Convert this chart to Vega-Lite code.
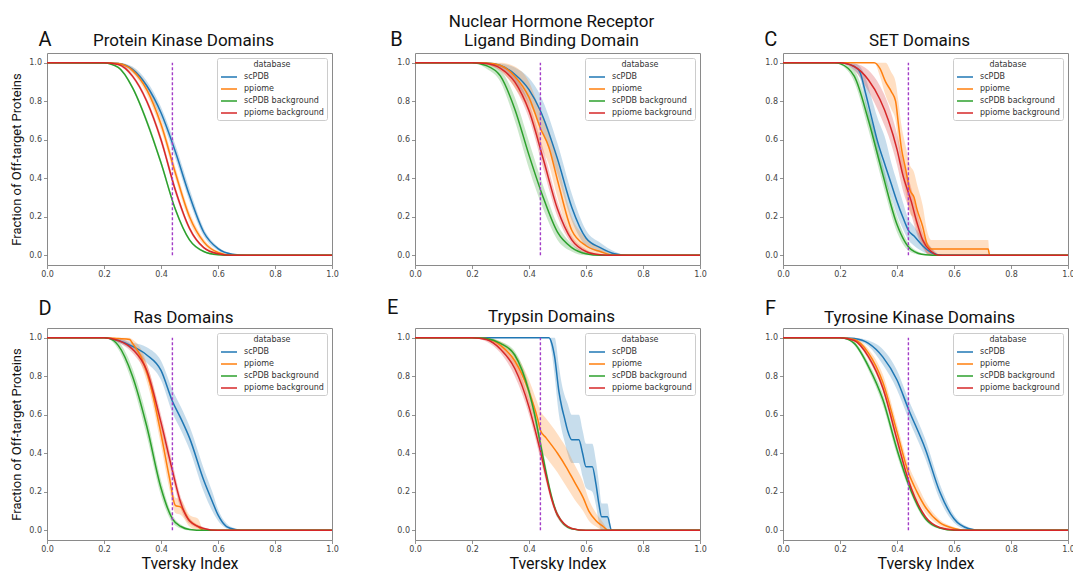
{
"$schema":"https://vega.github.io/schema/vega-lite/v6.json",
"padding":{"left":10,"top":12,"right":5,"bottom":5},
"background":"white",
"config":{
 "font":"Roboto",
 "view":{"stroke":"#8a8a8a","strokeWidth":1},
 "axis":{"grid":false,"domain":false,"tickColor":"#777","tickSize":3.5,"tickWidth":0.8,"labelFont":"DejaVu Sans","labelFontSize":8,"labelColor":"#444","labelPadding":2,"labelFlush":false,"labelOverlap":false,"titleFont":"Roboto","titleFontWeight":"normal","titleColor":"#111"},
 "legend":{"orient":"top-right","offset":5,"padding":3,"strokeColor":"#cccccc","fillColor":"white","cornerRadius":2,"titleFont":"DejaVu Sans","titleFontSize":8,"titleFontWeight":"normal","titleColor":"#333","titleAnchor":"middle","titlePadding":2,"labelFont":"DejaVu Sans","labelFontSize":8,"labelColor":"#333","symbolType":"M-1,0H2.2","symbolSize":100,"symbolStrokeWidth":1.5,"rowPadding":2,"labelOffset":12},
 "title":{"font":"Roboto","fontSize":17,"fontWeight":"normal","color":"#111","anchor":"middle","baseline":"bottom","lineHeight":19,"dx":-6}
},
"datasets":{
"A":[
{"d":"scPDB","x":0,"y":1,"lo":1,"hi":1},{"d":"scPDB","x":0.2,"y":1,"lo":1,"hi":1},{"d":"scPDB","x":0.25,"y":0.995,"lo":0.99,"hi":1},{"d":"scPDB","x":0.3,"y":0.965,"lo":0.95,"hi":0.98},{"d":"scPDB","x":0.35,"y":0.88,"lo":0.855,"hi":0.905},{"d":"scPDB","x":0.4,"y":0.74,"lo":0.71,"hi":0.77},{"d":"scPDB","x":0.45,"y":0.54,"lo":0.505,"hi":0.575},{"d":"scPDB","x":0.5,"y":0.31,"lo":0.28,"hi":0.345},{"d":"scPDB","x":0.55,"y":0.12,"lo":0.1,"hi":0.14},{"d":"scPDB","x":0.6,"y":0.035,"lo":0.025,"hi":0.045},{"d":"scPDB","x":0.65,"y":0.006,"lo":0.002,"hi":0.01},{"d":"scPDB","x":0.7,"y":0,"lo":0,"hi":0},{"d":"scPDB","x":1,"y":0,"lo":0,"hi":0},
{"d":"ppiome","x":0,"y":1,"lo":1,"hi":1},{"d":"ppiome","x":0.2,"y":1,"lo":1,"hi":1},{"d":"ppiome","x":0.25,"y":0.995,"lo":0.99,"hi":1},{"d":"ppiome","x":0.3,"y":0.96,"lo":0.945,"hi":0.975},{"d":"ppiome","x":0.35,"y":0.86,"lo":0.835,"hi":0.885},{"d":"ppiome","x":0.4,"y":0.68,"lo":0.65,"hi":0.71},{"d":"ppiome","x":0.45,"y":0.43,"lo":0.4,"hi":0.46},{"d":"ppiome","x":0.5,"y":0.2,"lo":0.175,"hi":0.225},{"d":"ppiome","x":0.55,"y":0.07,"lo":0.055,"hi":0.085},{"d":"ppiome","x":0.6,"y":0.015,"lo":0.008,"hi":0.022},{"d":"ppiome","x":0.65,"y":0,"lo":0,"hi":0.003},{"d":"ppiome","x":0.7,"y":0,"lo":0,"hi":0},{"d":"ppiome","x":1,"y":0,"lo":0,"hi":0},
{"d":"scPDB background","x":0,"y":1,"lo":1,"hi":1},{"d":"scPDB background","x":0.2,"y":0.998,"lo":0.997,"hi":1},{"d":"scPDB background","x":0.25,"y":0.975,"lo":0.97,"hi":0.98},{"d":"scPDB background","x":0.3,"y":0.87,"lo":0.86,"hi":0.88},{"d":"scPDB background","x":0.35,"y":0.695,"lo":0.68,"hi":0.71},{"d":"scPDB background","x":0.4,"y":0.48,"lo":0.465,"hi":0.495},{"d":"scPDB background","x":0.45,"y":0.24,"lo":0.228,"hi":0.252},{"d":"scPDB background","x":0.5,"y":0.08,"lo":0.073,"hi":0.087},{"d":"scPDB background","x":0.55,"y":0.02,"lo":0.016,"hi":0.024},{"d":"scPDB background","x":0.6,"y":0.003,"lo":0.001,"hi":0.005},{"d":"scPDB background","x":0.65,"y":0,"lo":0,"hi":0},{"d":"scPDB background","x":1,"y":0,"lo":0,"hi":0},
{"d":"ppiome background","x":0,"y":1,"lo":1,"hi":1},{"d":"ppiome background","x":0.2,"y":1,"lo":1,"hi":1},{"d":"ppiome background","x":0.25,"y":0.99,"lo":0.985,"hi":0.995},{"d":"ppiome background","x":0.3,"y":0.93,"lo":0.92,"hi":0.94},{"d":"ppiome background","x":0.35,"y":0.8,"lo":0.785,"hi":0.815},{"d":"ppiome background","x":0.4,"y":0.6,"lo":0.58,"hi":0.62},{"d":"ppiome background","x":0.45,"y":0.34,"lo":0.32,"hi":0.36},{"d":"ppiome background","x":0.5,"y":0.14,"lo":0.128,"hi":0.152},{"d":"ppiome background","x":0.55,"y":0.04,"lo":0.034,"hi":0.046},{"d":"ppiome background","x":0.6,"y":0.008,"lo":0.005,"hi":0.011},{"d":"ppiome background","x":0.65,"y":0,"lo":0,"hi":0},{"d":"ppiome background","x":1,"y":0,"lo":0,"hi":0}
],
"B":[
{"d":"scPDB","x":0,"y":1,"lo":1,"hi":1},{"d":"scPDB","x":0.2,"y":1,"lo":1,"hi":1},{"d":"scPDB","x":0.25,"y":0.998,"lo":0.995,"hi":1},{"d":"scPDB","x":0.3,"y":0.985,"lo":0.97,"hi":0.995},{"d":"scPDB","x":0.35,"y":0.94,"lo":0.9,"hi":0.975},{"d":"scPDB","x":0.4,"y":0.86,"lo":0.79,"hi":0.92},{"d":"scPDB","x":0.44,"y":0.75,"lo":0.67,"hi":0.83},{"d":"scPDB","x":0.5,"y":0.5,"lo":0.42,"hi":0.58},{"d":"scPDB","x":0.55,"y":0.25,"lo":0.18,"hi":0.32},{"d":"scPDB","x":0.6,"y":0.09,"lo":0.05,"hi":0.13},{"d":"scPDB","x":0.65,"y":0.04,"lo":0.015,"hi":0.065},{"d":"scPDB","x":0.7,"y":0.008,"lo":0,"hi":0.02},{"d":"scPDB","x":0.75,"y":0,"lo":0,"hi":0},{"d":"scPDB","x":1,"y":0,"lo":0,"hi":0},
{"d":"ppiome","x":0,"y":1,"lo":1,"hi":1},{"d":"ppiome","x":0.2,"y":1,"lo":1,"hi":1},{"d":"ppiome","x":0.25,"y":0.998,"lo":0.99,"hi":1},{"d":"ppiome","x":0.3,"y":0.985,"lo":0.96,"hi":1},{"d":"ppiome","x":0.35,"y":0.93,"lo":0.87,"hi":0.98},{"d":"ppiome","x":0.4,"y":0.82,"lo":0.74,"hi":0.9},{"d":"ppiome","x":0.44,"y":0.66,"lo":0.57,"hi":0.75},{"d":"ppiome","x":0.47,"y":0.56,"lo":0.47,"hi":0.65},{"d":"ppiome","x":0.5,"y":0.39,"lo":0.3,"hi":0.48},{"d":"ppiome","x":0.55,"y":0.13,"lo":0.08,"hi":0.2},{"d":"ppiome","x":0.6,"y":0.05,"lo":0.02,"hi":0.09},{"d":"ppiome","x":0.65,"y":0.02,"lo":0.005,"hi":0.04},{"d":"ppiome","x":0.7,"y":0,"lo":0,"hi":0.005},{"d":"ppiome","x":1,"y":0,"lo":0,"hi":0},
{"d":"scPDB background","x":0,"y":1,"lo":1,"hi":1},{"d":"scPDB background","x":0.2,"y":1,"lo":1,"hi":1},{"d":"scPDB background","x":0.25,"y":0.985,"lo":0.97,"hi":0.995},{"d":"scPDB background","x":0.3,"y":0.93,"lo":0.9,"hi":0.96},{"d":"scPDB background","x":0.35,"y":0.76,"lo":0.7,"hi":0.82},{"d":"scPDB background","x":0.4,"y":0.52,"lo":0.45,"hi":0.59},{"d":"scPDB background","x":0.45,"y":0.3,"lo":0.24,"hi":0.36},{"d":"scPDB background","x":0.5,"y":0.12,"lo":0.08,"hi":0.16},{"d":"scPDB background","x":0.55,"y":0.04,"lo":0.02,"hi":0.06},{"d":"scPDB background","x":0.6,"y":0.008,"lo":0,"hi":0.015},{"d":"scPDB background","x":0.65,"y":0,"lo":0,"hi":0},{"d":"scPDB background","x":1,"y":0,"lo":0,"hi":0},
{"d":"ppiome background","x":0,"y":1,"lo":1,"hi":1},{"d":"ppiome background","x":0.2,"y":1,"lo":1,"hi":1},{"d":"ppiome background","x":0.25,"y":0.995,"lo":0.99,"hi":1},{"d":"ppiome background","x":0.3,"y":0.97,"lo":0.955,"hi":0.985},{"d":"ppiome background","x":0.35,"y":0.9,"lo":0.87,"hi":0.93},{"d":"ppiome background","x":0.4,"y":0.75,"lo":0.71,"hi":0.79},{"d":"ppiome background","x":0.45,"y":0.5,"lo":0.45,"hi":0.55},{"d":"ppiome background","x":0.5,"y":0.24,"lo":0.2,"hi":0.28},{"d":"ppiome background","x":0.55,"y":0.08,"lo":0.06,"hi":0.1},{"d":"ppiome background","x":0.6,"y":0.02,"lo":0.01,"hi":0.03},{"d":"ppiome background","x":0.65,"y":0.003,"lo":0,"hi":0.006},{"d":"ppiome background","x":0.7,"y":0,"lo":0,"hi":0},{"d":"ppiome background","x":1,"y":0,"lo":0,"hi":0}
],
"C":[
{"d":"scPDB","x":0,"y":1,"lo":1,"hi":1},{"d":"scPDB","x":0.2,"y":1,"lo":1,"hi":1},{"d":"scPDB","x":0.25,"y":0.98,"lo":0.96,"hi":0.995},{"d":"scPDB","x":0.27,"y":0.95,"lo":0.92,"hi":0.98},{"d":"scPDB","x":0.29,"y":0.84,"lo":0.78,"hi":0.92},{"d":"scPDB","x":0.31,"y":0.72,"lo":0.64,"hi":0.82},{"d":"scPDB","x":0.33,"y":0.6,"lo":0.52,"hi":0.72},{"d":"scPDB","x":0.36,"y":0.46,"lo":0.38,"hi":0.6},{"d":"scPDB","x":0.38,"y":0.37,"lo":0.3,"hi":0.48},{"d":"scPDB","x":0.4,"y":0.28,"lo":0.21,"hi":0.38},{"d":"scPDB","x":0.42,"y":0.2,"lo":0.14,"hi":0.28},{"d":"scPDB","x":0.44,"y":0.13,"lo":0.08,"hi":0.19},{"d":"scPDB","x":0.46,"y":0.1,"lo":0.05,"hi":0.15},{"d":"scPDB","x":0.49,"y":0.05,"lo":0.02,"hi":0.09},{"d":"scPDB","x":0.52,"y":0.015,"lo":0,"hi":0.04},{"d":"scPDB","x":0.56,"y":0,"lo":0,"hi":0},{"d":"scPDB","x":1,"y":0,"lo":0,"hi":0},
{"d":"ppiome","x":0,"y":1,"lo":1,"hi":1},{"d":"ppiome","x":0.32,"y":1,"lo":1,"hi":1},{"d":"ppiome","x":0.34,"y":0.97,"lo":0.93,"hi":1},{"d":"ppiome","x":0.36,"y":0.9,"lo":0.83,"hi":1},{"d":"ppiome","x":0.38,"y":0.85,"lo":0.76,"hi":0.95},{"d":"ppiome","x":0.395,"y":0.8,"lo":0.7,"hi":0.9},{"d":"ppiome","x":0.405,"y":0.68,"lo":0.57,"hi":0.8},{"d":"ppiome","x":0.415,"y":0.56,"lo":0.45,"hi":0.68},{"d":"ppiome","x":0.43,"y":0.45,"lo":0.33,"hi":0.57},{"d":"ppiome","x":0.445,"y":0.34,"lo":0.22,"hi":0.47},{"d":"ppiome","x":0.46,"y":0.3,"lo":0.19,"hi":0.43},{"d":"ppiome","x":0.47,"y":0.24,"lo":0.13,"hi":0.37},{"d":"ppiome","x":0.49,"y":0.15,"lo":0.06,"hi":0.26},{"d":"ppiome","x":0.505,"y":0.06,"lo":0.01,"hi":0.13},{"d":"ppiome","x":0.52,"y":0.033,"lo":0,"hi":0.08},{"d":"ppiome","x":0.72,"y":0.033,"lo":0,"hi":0.08},{"d":"ppiome","x":0.725,"y":0,"lo":0,"hi":0},{"d":"ppiome","x":1,"y":0,"lo":0,"hi":0},
{"d":"scPDB background","x":0,"y":1,"lo":1,"hi":1},{"d":"scPDB background","x":0.18,"y":1,"lo":1,"hi":1},{"d":"scPDB background","x":0.2,"y":0.995,"lo":0.99,"hi":1},{"d":"scPDB background","x":0.25,"y":0.93,"lo":0.9,"hi":0.96},{"d":"scPDB background","x":0.3,"y":0.7,"lo":0.65,"hi":0.75},{"d":"scPDB background","x":0.35,"y":0.42,"lo":0.37,"hi":0.47},{"d":"scPDB background","x":0.4,"y":0.16,"lo":0.12,"hi":0.2},{"d":"scPDB background","x":0.45,"y":0.03,"lo":0.015,"hi":0.045},{"d":"scPDB background","x":0.5,"y":0.003,"lo":0,"hi":0.008},{"d":"scPDB background","x":0.55,"y":0,"lo":0,"hi":0},{"d":"scPDB background","x":1,"y":0,"lo":0,"hi":0},
{"d":"ppiome background","x":0,"y":1,"lo":1,"hi":1},{"d":"ppiome background","x":0.2,"y":1,"lo":1,"hi":1},{"d":"ppiome background","x":0.25,"y":0.98,"lo":0.96,"hi":0.995},{"d":"ppiome background","x":0.3,"y":0.91,"lo":0.85,"hi":0.96},{"d":"ppiome background","x":0.34,"y":0.81,"lo":0.73,"hi":0.88},{"d":"ppiome background","x":0.37,"y":0.7,"lo":0.62,"hi":0.78},{"d":"ppiome background","x":0.4,"y":0.55,"lo":0.47,"hi":0.63},{"d":"ppiome background","x":0.42,"y":0.42,"lo":0.34,"hi":0.5},{"d":"ppiome background","x":0.45,"y":0.28,"lo":0.21,"hi":0.35},{"d":"ppiome background","x":0.47,"y":0.17,"lo":0.11,"hi":0.23},{"d":"ppiome background","x":0.49,"y":0.08,"lo":0.04,"hi":0.12},{"d":"ppiome background","x":0.52,"y":0.02,"lo":0,"hi":0.04},{"d":"ppiome background","x":0.55,"y":0,"lo":0,"hi":0},{"d":"ppiome background","x":1,"y":0,"lo":0,"hi":0}
],
"D":[
{"d":"scPDB","x":0,"y":1,"lo":1,"hi":1},{"d":"scPDB","x":0.2,"y":1,"lo":1,"hi":1},{"d":"scPDB","x":0.25,"y":0.985,"lo":0.975,"hi":0.995},{"d":"scPDB","x":0.3,"y":0.955,"lo":0.935,"hi":0.975},{"d":"scPDB","x":0.35,"y":0.91,"lo":0.87,"hi":0.95},{"d":"scPDB","x":0.4,"y":0.83,"lo":0.78,"hi":0.88},{"d":"scPDB","x":0.44,"y":0.67,"lo":0.61,"hi":0.73},{"d":"scPDB","x":0.47,"y":0.58,"lo":0.52,"hi":0.64},{"d":"scPDB","x":0.5,"y":0.48,"lo":0.42,"hi":0.54},{"d":"scPDB","x":0.55,"y":0.26,"lo":0.2,"hi":0.32},{"d":"scPDB","x":0.58,"y":0.15,"lo":0.1,"hi":0.2},{"d":"scPDB","x":0.6,"y":0.08,"lo":0.05,"hi":0.11},{"d":"scPDB","x":0.63,"y":0.02,"lo":0.01,"hi":0.035},{"d":"scPDB","x":0.66,"y":0.005,"lo":0,"hi":0.01},{"d":"scPDB","x":0.7,"y":0,"lo":0,"hi":0},{"d":"scPDB","x":1,"y":0,"lo":0,"hi":0},
{"d":"ppiome","x":0,"y":1,"lo":1,"hi":1},{"d":"ppiome","x":0.2,"y":1,"lo":1,"hi":1},{"d":"ppiome","x":0.25,"y":0.995,"lo":0.99,"hi":1},{"d":"ppiome","x":0.29,"y":0.99,"lo":0.98,"hi":1},{"d":"ppiome","x":0.3,"y":0.97,"lo":0.95,"hi":0.99},{"d":"ppiome","x":0.33,"y":0.9,"lo":0.86,"hi":0.94},{"d":"ppiome","x":0.36,"y":0.77,"lo":0.72,"hi":0.82},{"d":"ppiome","x":0.4,"y":0.5,"lo":0.44,"hi":0.56},{"d":"ppiome","x":0.43,"y":0.27,"lo":0.21,"hi":0.33},{"d":"ppiome","x":0.45,"y":0.13,"lo":0.09,"hi":0.17},{"d":"ppiome","x":0.47,"y":0.12,"lo":0.08,"hi":0.16},{"d":"ppiome","x":0.5,"y":0.05,"lo":0.02,"hi":0.08},{"d":"ppiome","x":0.53,"y":0.02,"lo":0,"hi":0.06},{"d":"ppiome","x":0.55,"y":0,"lo":0,"hi":0},{"d":"ppiome","x":1,"y":0,"lo":0,"hi":0},
{"d":"scPDB background","x":0,"y":1,"lo":1,"hi":1},{"d":"scPDB background","x":0.2,"y":1,"lo":1,"hi":1},{"d":"scPDB background","x":0.22,"y":0.995,"lo":0.99,"hi":1},{"d":"scPDB background","x":0.25,"y":0.96,"lo":0.94,"hi":0.98},{"d":"scPDB background","x":0.3,"y":0.8,"lo":0.76,"hi":0.84},{"d":"scPDB background","x":0.35,"y":0.54,"lo":0.49,"hi":0.59},{"d":"scPDB background","x":0.4,"y":0.22,"lo":0.18,"hi":0.26},{"d":"scPDB background","x":0.44,"y":0.06,"lo":0.04,"hi":0.08},{"d":"scPDB background","x":0.47,"y":0.02,"lo":0.01,"hi":0.03},{"d":"scPDB background","x":0.5,"y":0.005,"lo":0,"hi":0.01},{"d":"scPDB background","x":0.55,"y":0,"lo":0,"hi":0},{"d":"scPDB background","x":1,"y":0,"lo":0,"hi":0},
{"d":"ppiome background","x":0,"y":1,"lo":1,"hi":1},{"d":"ppiome background","x":0.2,"y":1,"lo":1,"hi":1},{"d":"ppiome background","x":0.25,"y":0.985,"lo":0.975,"hi":0.995},{"d":"ppiome background","x":0.3,"y":0.94,"lo":0.92,"hi":0.96},{"d":"ppiome background","x":0.35,"y":0.83,"lo":0.8,"hi":0.86},{"d":"ppiome background","x":0.4,"y":0.56,"lo":0.52,"hi":0.6},{"d":"ppiome background","x":0.44,"y":0.31,"lo":0.27,"hi":0.35},{"d":"ppiome background","x":0.47,"y":0.14,"lo":0.11,"hi":0.17},{"d":"ppiome background","x":0.5,"y":0.05,"lo":0.035,"hi":0.065},{"d":"ppiome background","x":0.55,"y":0.01,"lo":0.004,"hi":0.016},{"d":"ppiome background","x":0.6,"y":0,"lo":0,"hi":0},{"d":"ppiome background","x":1,"y":0,"lo":0,"hi":0}
],
"E":[
{"d":"scPDB","x":0,"y":1,"lo":1,"hi":1},{"d":"scPDB","x":0.47,"y":1,"lo":1,"hi":1},{"d":"scPDB","x":0.48,"y":0.97,"lo":0.92,"hi":1},{"d":"scPDB","x":0.49,"y":0.9,"lo":0.8,"hi":1},{"d":"scPDB","x":0.505,"y":0.72,"lo":0.6,"hi":0.85},{"d":"scPDB","x":0.515,"y":0.64,"lo":0.52,"hi":0.76},{"d":"scPDB","x":0.525,"y":0.58,"lo":0.46,"hi":0.7},{"d":"scPDB","x":0.535,"y":0.52,"lo":0.4,"hi":0.66},{"d":"scPDB","x":0.55,"y":0.47,"lo":0.35,"hi":0.6},{"d":"scPDB","x":0.575,"y":0.47,"lo":0.35,"hi":0.6},{"d":"scPDB","x":0.588,"y":0.4,"lo":0.28,"hi":0.52},{"d":"scPDB","x":0.6,"y":0.33,"lo":0.22,"hi":0.45},{"d":"scPDB","x":0.622,"y":0.33,"lo":0.2,"hi":0.45},{"d":"scPDB","x":0.635,"y":0.24,"lo":0.13,"hi":0.36},{"d":"scPDB","x":0.645,"y":0.14,"lo":0.04,"hi":0.25},{"d":"scPDB","x":0.655,"y":0.07,"lo":0,"hi":0.14},{"d":"scPDB","x":0.675,"y":0.07,"lo":0,"hi":0.14},{"d":"scPDB","x":0.69,"y":0,"lo":0,"hi":0},{"d":"scPDB","x":1,"y":0,"lo":0,"hi":0},
{"d":"ppiome","x":0,"y":1,"lo":1,"hi":1},{"d":"ppiome","x":0.2,"y":1,"lo":1,"hi":1},{"d":"ppiome","x":0.25,"y":0.995,"lo":0.99,"hi":1},{"d":"ppiome","x":0.3,"y":0.96,"lo":0.94,"hi":0.98},{"d":"ppiome","x":0.35,"y":0.88,"lo":0.84,"hi":0.92},{"d":"ppiome","x":0.4,"y":0.72,"lo":0.66,"hi":0.78},{"d":"ppiome","x":0.43,"y":0.58,"lo":0.5,"hi":0.66},{"d":"ppiome","x":0.44,"y":0.52,"lo":0.42,"hi":0.62},{"d":"ppiome","x":0.46,"y":0.48,"lo":0.38,"hi":0.58},{"d":"ppiome","x":0.5,"y":0.4,"lo":0.3,"hi":0.5},{"d":"ppiome","x":0.53,"y":0.33,"lo":0.23,"hi":0.43},{"d":"ppiome","x":0.56,"y":0.25,"lo":0.16,"hi":0.34},{"d":"ppiome","x":0.59,"y":0.17,"lo":0.1,"hi":0.25},{"d":"ppiome","x":0.61,"y":0.1,"lo":0.05,"hi":0.16},{"d":"ppiome","x":0.635,"y":0.05,"lo":0.02,"hi":0.09},{"d":"ppiome","x":0.66,"y":0.02,"lo":0,"hi":0.04},{"d":"ppiome","x":0.68,"y":0,"lo":0,"hi":0},{"d":"ppiome","x":1,"y":0,"lo":0,"hi":0},
{"d":"scPDB background","x":0,"y":1,"lo":1,"hi":1},{"d":"scPDB background","x":0.2,"y":1,"lo":1,"hi":1},{"d":"scPDB background","x":0.25,"y":0.995,"lo":0.99,"hi":1},{"d":"scPDB background","x":0.3,"y":0.97,"lo":0.96,"hi":0.98},{"d":"scPDB background","x":0.35,"y":0.91,"lo":0.89,"hi":0.93},{"d":"scPDB background","x":0.4,"y":0.72,"lo":0.69,"hi":0.75},{"d":"scPDB background","x":0.42,"y":0.6,"lo":0.57,"hi":0.63},{"d":"scPDB background","x":0.44,"y":0.45,"lo":0.42,"hi":0.48},{"d":"scPDB background","x":0.46,"y":0.3,"lo":0.27,"hi":0.33},{"d":"scPDB background","x":0.48,"y":0.17,"lo":0.15,"hi":0.19},{"d":"scPDB background","x":0.5,"y":0.08,"lo":0.065,"hi":0.095},{"d":"scPDB background","x":0.55,"y":0.008,"lo":0.003,"hi":0.013},{"d":"scPDB background","x":0.6,"y":0,"lo":0,"hi":0},{"d":"scPDB background","x":1,"y":0,"lo":0,"hi":0},
{"d":"ppiome background","x":0,"y":1,"lo":1,"hi":1},{"d":"ppiome background","x":0.2,"y":1,"lo":1,"hi":1},{"d":"ppiome background","x":0.25,"y":0.99,"lo":0.98,"hi":1},{"d":"ppiome background","x":0.3,"y":0.94,"lo":0.92,"hi":0.96},{"d":"ppiome background","x":0.35,"y":0.84,"lo":0.8,"hi":0.88},{"d":"ppiome background","x":0.4,"y":0.64,"lo":0.6,"hi":0.68},{"d":"ppiome background","x":0.42,"y":0.53,"lo":0.49,"hi":0.57},{"d":"ppiome background","x":0.44,"y":0.41,"lo":0.37,"hi":0.45},{"d":"ppiome background","x":0.46,"y":0.28,"lo":0.25,"hi":0.31},{"d":"ppiome background","x":0.48,"y":0.16,"lo":0.14,"hi":0.18},{"d":"ppiome background","x":0.5,"y":0.08,"lo":0.065,"hi":0.095},{"d":"ppiome background","x":0.55,"y":0.01,"lo":0.005,"hi":0.015},{"d":"ppiome background","x":0.6,"y":0,"lo":0,"hi":0},{"d":"ppiome background","x":1,"y":0,"lo":0,"hi":0}
],
"F":[
{"d":"scPDB","x":0,"y":1,"lo":1,"hi":1},{"d":"scPDB","x":0.2,"y":1,"lo":1,"hi":1},{"d":"scPDB","x":0.25,"y":0.995,"lo":0.99,"hi":1},{"d":"scPDB","x":0.3,"y":0.97,"lo":0.955,"hi":0.985},{"d":"scPDB","x":0.35,"y":0.9,"lo":0.86,"hi":0.94},{"d":"scPDB","x":0.4,"y":0.78,"lo":0.73,"hi":0.83},{"d":"scPDB","x":0.44,"y":0.63,"lo":0.58,"hi":0.68},{"d":"scPDB","x":0.5,"y":0.42,"lo":0.37,"hi":0.47},{"d":"scPDB","x":0.55,"y":0.2,"lo":0.16,"hi":0.24},{"d":"scPDB","x":0.6,"y":0.06,"lo":0.04,"hi":0.08},{"d":"scPDB","x":0.65,"y":0.01,"lo":0.003,"hi":0.017},{"d":"scPDB","x":0.7,"y":0,"lo":0,"hi":0},{"d":"scPDB","x":1,"y":0,"lo":0,"hi":0},
{"d":"ppiome","x":0,"y":1,"lo":1,"hi":1},{"d":"ppiome","x":0.2,"y":1,"lo":1,"hi":1},{"d":"ppiome","x":0.25,"y":0.99,"lo":0.98,"hi":1},{"d":"ppiome","x":0.3,"y":0.92,"lo":0.9,"hi":0.94},{"d":"ppiome","x":0.35,"y":0.77,"lo":0.73,"hi":0.81},{"d":"ppiome","x":0.4,"y":0.51,"lo":0.47,"hi":0.55},{"d":"ppiome","x":0.44,"y":0.3,"lo":0.26,"hi":0.34},{"d":"ppiome","x":0.47,"y":0.2,"lo":0.16,"hi":0.24},{"d":"ppiome","x":0.5,"y":0.12,"lo":0.09,"hi":0.15},{"d":"ppiome","x":0.55,"y":0.04,"lo":0.025,"hi":0.055},{"d":"ppiome","x":0.6,"y":0.01,"lo":0.003,"hi":0.017},{"d":"ppiome","x":0.65,"y":0,"lo":0,"hi":0},{"d":"ppiome","x":1,"y":0,"lo":0,"hi":0},
{"d":"scPDB background","x":0,"y":1,"lo":1,"hi":1},{"d":"scPDB background","x":0.2,"y":1,"lo":1,"hi":1},{"d":"scPDB background","x":0.23,"y":0.99,"lo":0.985,"hi":0.995},{"d":"scPDB background","x":0.25,"y":0.97,"lo":0.96,"hi":0.98},{"d":"scPDB background","x":0.3,"y":0.85,"lo":0.83,"hi":0.87},{"d":"scPDB background","x":0.35,"y":0.68,"lo":0.65,"hi":0.71},{"d":"scPDB background","x":0.4,"y":0.42,"lo":0.39,"hi":0.45},{"d":"scPDB background","x":0.44,"y":0.24,"lo":0.22,"hi":0.26},{"d":"scPDB background","x":0.5,"y":0.06,"lo":0.05,"hi":0.07},{"d":"scPDB background","x":0.55,"y":0.012,"lo":0.008,"hi":0.016},{"d":"scPDB background","x":0.6,"y":0,"lo":0,"hi":0},{"d":"scPDB background","x":1,"y":0,"lo":0,"hi":0},
{"d":"ppiome background","x":0,"y":1,"lo":1,"hi":1},{"d":"ppiome background","x":0.2,"y":1,"lo":1,"hi":1},{"d":"ppiome background","x":0.25,"y":0.985,"lo":0.98,"hi":0.99},{"d":"ppiome background","x":0.3,"y":0.9,"lo":0.885,"hi":0.915},{"d":"ppiome background","x":0.35,"y":0.74,"lo":0.72,"hi":0.76},{"d":"ppiome background","x":0.4,"y":0.47,"lo":0.45,"hi":0.49},{"d":"ppiome background","x":0.44,"y":0.26,"lo":0.245,"hi":0.275},{"d":"ppiome background","x":0.5,"y":0.07,"lo":0.06,"hi":0.08},{"d":"ppiome background","x":0.55,"y":0.015,"lo":0.01,"hi":0.02},{"d":"ppiome background","x":0.6,"y":0.002,"lo":0,"hi":0.004},{"d":"ppiome background","x":0.65,"y":0,"lo":0,"hi":0},{"d":"ppiome background","x":1,"y":0,"lo":0,"hi":0}
]
},
"columns":3,
"spacing":{"row":63,"column":83},
"bounds":"flush",
"resolve":{"scale":{"color":"independent","fill":"independent"},"legend":{"color":"independent","fill":"independent"}},
"concat":[
{"width":285,"height":212,"title":{"text":"Protein Kinase Domains","offset":-20},
 "layer":[
  {"data":{"name":"A"},"mark":{"type":"area","interpolate":"monotone","opacity":0.25},
   "encoding":{"x":{"field":"x","type":"quantitative","scale":{"domain":[0,1],"nice":false,"zero":false},"axis":{"values":[0,0.2,0.4,0.6,0.8,1],"format":".1f","title":null}},
    "y":{"field":"lo","type":"quantitative","scale":{"domain":[-0.05,1.05],"nice":false,"zero":false},"axis":{"values":[0,0.2,0.4,0.6,0.8,1],"format":".1f","title":"Fraction of Off-target Proteins","titleFontSize":13,"titlePadding":5}},
    "y2":{"field":"hi"},
    "fill":{"field":"d","type":"nominal","scale":{"domain":["scPDB","ppiome","scPDB background","ppiome background","none"],"range":["#1f77b4","#ff7f0e","#2ca02c","#d62728","#000000"]},"legend":null}}},
  {"data":{"name":"A"},"mark":{"type":"line","interpolate":"monotone","strokeWidth":1.5},
   "encoding":{"x":{"field":"x","type":"quantitative","scale":{"domain":[0,1],"nice":false,"zero":false},"axis":{"values":[0,0.2,0.4,0.6,0.8,1],"format":".1f","title":null}},
    "y":{"field":"y","type":"quantitative","scale":{"domain":[-0.05,1.05],"nice":false,"zero":false},"axis":{"values":[0,0.2,0.4,0.6,0.8,1],"format":".1f","title":"Fraction of Off-target Proteins","titleFontSize":13,"titlePadding":5}},
    "color":{"field":"d","type":"nominal","scale":{"domain":["scPDB","ppiome","scPDB background","ppiome background"],"range":["#1f77b4","#ff7f0e","#2ca02c","#d62728"]},"title":"database"}}},
  {"data":{"values":[{}]},"mark":{"type":"rule","color":"#a33cc8","strokeDash":[3,2],"strokeWidth":1.4},
   "encoding":{"x":{"datum":0.44,"type":"quantitative"},"y":{"datum":0,"type":"quantitative"},"y2":{"datum":1}}},
  {"data":{"values":[{}]},"mark":{"type":"text","fontSize":20,"align":"left","baseline":"alphabetic","font":"Roboto","color":"#111"},
   "encoding":{"x":{"datum":-0.03,"type":"quantitative"},"y":{"datum":1.085,"type":"quantitative"},"text":{"value":"A"}}}
 ]},
{"width":285,"height":212,"title":{"text":["Nuclear Hormone Receptor","Ligand Binding Domain"],"offset":-20},
 "layer":[
  {"data":{"name":"B"},"mark":{"type":"area","interpolate":"monotone","opacity":0.25},
   "encoding":{"x":{"field":"x","type":"quantitative","scale":{"domain":[0,1],"nice":false,"zero":false},"axis":{"values":[0,0.2,0.4,0.6,0.8,1],"format":".1f","title":null}},
    "y":{"field":"lo","type":"quantitative","scale":{"domain":[-0.05,1.05],"nice":false,"zero":false},"axis":{"values":[0,0.2,0.4,0.6,0.8,1],"format":".1f","title":null}},
    "y2":{"field":"hi"},
    "fill":{"field":"d","type":"nominal","scale":{"domain":["scPDB","ppiome","scPDB background","ppiome background","none"],"range":["#1f77b4","#ff7f0e","#2ca02c","#d62728","#000000"]},"legend":null}}},
  {"data":{"name":"B"},"mark":{"type":"line","interpolate":"monotone","strokeWidth":1.5},
   "encoding":{"x":{"field":"x","type":"quantitative","scale":{"domain":[0,1],"nice":false,"zero":false},"axis":{"values":[0,0.2,0.4,0.6,0.8,1],"format":".1f","title":null}},
    "y":{"field":"y","type":"quantitative","scale":{"domain":[-0.05,1.05],"nice":false,"zero":false},"axis":{"values":[0,0.2,0.4,0.6,0.8,1],"format":".1f","title":null}},
    "color":{"field":"d","type":"nominal","scale":{"domain":["scPDB","ppiome","scPDB background","ppiome background"],"range":["#1f77b4","#ff7f0e","#2ca02c","#d62728"]},"title":"database"}}},
  {"data":{"values":[{}]},"mark":{"type":"rule","color":"#a33cc8","strokeDash":[3,2],"strokeWidth":1.4},
   "encoding":{"x":{"datum":0.44,"type":"quantitative"},"y":{"datum":0,"type":"quantitative"},"y2":{"datum":1}}},
  {"data":{"values":[{}]},"mark":{"type":"text","fontSize":20,"align":"left","baseline":"alphabetic","font":"Roboto","color":"#111"},
   "encoding":{"x":{"datum":-0.087,"type":"quantitative"},"y":{"datum":1.085,"type":"quantitative"},"text":{"value":"B"}}}
 ]},
{"width":285,"height":212,"title":{"text":"SET Domains","offset":-20},
 "layer":[
  {"data":{"name":"C"},"mark":{"type":"area","interpolate":"monotone","opacity":0.25},
   "encoding":{"x":{"field":"x","type":"quantitative","scale":{"domain":[0,1],"nice":false,"zero":false},"axis":{"values":[0,0.2,0.4,0.6,0.8,1],"format":".1f","title":null}},
    "y":{"field":"lo","type":"quantitative","scale":{"domain":[-0.05,1.05],"nice":false,"zero":false},"axis":{"values":[0,0.2,0.4,0.6,0.8,1],"format":".1f","title":null}},
    "y2":{"field":"hi"},
    "fill":{"field":"d","type":"nominal","scale":{"domain":["scPDB","ppiome","scPDB background","ppiome background","none"],"range":["#1f77b4","#ff7f0e","#2ca02c","#d62728","#000000"]},"legend":null}}},
  {"data":{"name":"C"},"mark":{"type":"line","interpolate":"monotone","strokeWidth":1.5},
   "encoding":{"x":{"field":"x","type":"quantitative","scale":{"domain":[0,1],"nice":false,"zero":false},"axis":{"values":[0,0.2,0.4,0.6,0.8,1],"format":".1f","title":null}},
    "y":{"field":"y","type":"quantitative","scale":{"domain":[-0.05,1.05],"nice":false,"zero":false},"axis":{"values":[0,0.2,0.4,0.6,0.8,1],"format":".1f","title":null}},
    "color":{"field":"d","type":"nominal","scale":{"domain":["scPDB","ppiome","scPDB background","ppiome background"],"range":["#1f77b4","#ff7f0e","#2ca02c","#d62728"]},"title":"database"}}},
  {"data":{"values":[{}]},"mark":{"type":"rule","color":"#a33cc8","strokeDash":[3,2],"strokeWidth":1.4},
   "encoding":{"x":{"datum":0.44,"type":"quantitative"},"y":{"datum":0,"type":"quantitative"},"y2":{"datum":1}}},
  {"data":{"values":[{}]},"mark":{"type":"text","fontSize":20,"align":"left","baseline":"alphabetic","font":"Roboto","color":"#111"},
   "encoding":{"x":{"datum":-0.066,"type":"quantitative"},"y":{"datum":1.085,"type":"quantitative"},"text":{"value":"C"}}}
 ]},
{"width":285,"height":212,"title":{"text":"Ras Domains","offset":-28},
 "layer":[
  {"data":{"name":"D"},"mark":{"type":"area","interpolate":"monotone","opacity":0.25},
   "encoding":{"x":{"field":"x","type":"quantitative","scale":{"domain":[0,1],"nice":false,"zero":false},"axis":{"values":[0,0.2,0.4,0.6,0.8,1],"format":".1f","title":"Tversky Index","titleFontSize":16,"titlePadding":2}},
    "y":{"field":"lo","type":"quantitative","scale":{"domain":[-0.05,1.05],"nice":false,"zero":false},"axis":{"values":[0,0.2,0.4,0.6,0.8,1],"format":".1f","title":"Fraction of Off-target Proteins","titleFontSize":13,"titlePadding":5}},
    "y2":{"field":"hi"},
    "fill":{"field":"d","type":"nominal","scale":{"domain":["scPDB","ppiome","scPDB background","ppiome background","none"],"range":["#1f77b4","#ff7f0e","#2ca02c","#d62728","#000000"]},"legend":null}}},
  {"data":{"name":"D"},"mark":{"type":"line","interpolate":"monotone","strokeWidth":1.5},
   "encoding":{"x":{"field":"x","type":"quantitative","scale":{"domain":[0,1],"nice":false,"zero":false},"axis":{"values":[0,0.2,0.4,0.6,0.8,1],"format":".1f","title":"Tversky Index","titleFontSize":16,"titlePadding":2}},
    "y":{"field":"y","type":"quantitative","scale":{"domain":[-0.05,1.05],"nice":false,"zero":false},"axis":{"values":[0,0.2,0.4,0.6,0.8,1],"format":".1f","title":"Fraction of Off-target Proteins","titleFontSize":13,"titlePadding":5}},
    "color":{"field":"d","type":"nominal","scale":{"domain":["scPDB","ppiome","scPDB background","ppiome background"],"range":["#1f77b4","#ff7f0e","#2ca02c","#d62728"]},"title":"database"}}},
  {"data":{"values":[{}]},"mark":{"type":"rule","color":"#a33cc8","strokeDash":[3,2],"strokeWidth":1.4},
   "encoding":{"x":{"datum":0.44,"type":"quantitative"},"y":{"datum":0,"type":"quantitative"},"y2":{"datum":1}}},
  {"data":{"values":[{}]},"mark":{"type":"text","fontSize":20,"align":"left","baseline":"alphabetic","font":"Roboto","color":"#111"},
   "encoding":{"x":{"datum":-0.03,"type":"quantitative"},"y":{"datum":1.12,"type":"quantitative"},"text":{"value":"D"}}}
 ]},
{"width":285,"height":212,"title":{"text":"Trypsin Domains","offset":-28},
 "layer":[
  {"data":{"name":"E"},"mark":{"type":"area","interpolate":"monotone","opacity":0.25},
   "encoding":{"x":{"field":"x","type":"quantitative","scale":{"domain":[0,1],"nice":false,"zero":false},"axis":{"values":[0,0.2,0.4,0.6,0.8,1],"format":".1f","title":"Tversky Index","titleFontSize":16,"titlePadding":2}},
    "y":{"field":"lo","type":"quantitative","scale":{"domain":[-0.05,1.05],"nice":false,"zero":false},"axis":{"values":[0,0.2,0.4,0.6,0.8,1],"format":".1f","title":null}},
    "y2":{"field":"hi"},
    "fill":{"field":"d","type":"nominal","scale":{"domain":["scPDB","ppiome","scPDB background","ppiome background","none"],"range":["#1f77b4","#ff7f0e","#2ca02c","#d62728","#000000"]},"legend":null}}},
  {"data":{"name":"E"},"mark":{"type":"line","interpolate":"monotone","strokeWidth":1.5},
   "encoding":{"x":{"field":"x","type":"quantitative","scale":{"domain":[0,1],"nice":false,"zero":false},"axis":{"values":[0,0.2,0.4,0.6,0.8,1],"format":".1f","title":"Tversky Index","titleFontSize":16,"titlePadding":2}},
    "y":{"field":"y","type":"quantitative","scale":{"domain":[-0.05,1.05],"nice":false,"zero":false},"axis":{"values":[0,0.2,0.4,0.6,0.8,1],"format":".1f","title":null}},
    "color":{"field":"d","type":"nominal","scale":{"domain":["scPDB","ppiome","scPDB background","ppiome background"],"range":["#1f77b4","#ff7f0e","#2ca02c","#d62728"]},"title":"database"}}},
  {"data":{"values":[{}]},"mark":{"type":"rule","color":"#a33cc8","strokeDash":[3,2],"strokeWidth":1.4},
   "encoding":{"x":{"datum":0.44,"type":"quantitative"},"y":{"datum":0,"type":"quantitative"},"y2":{"datum":1}}},
  {"data":{"values":[{}]},"mark":{"type":"text","fontSize":20,"align":"left","baseline":"alphabetic","font":"Roboto","color":"#111"},
   "encoding":{"x":{"datum":-0.098,"type":"quantitative"},"y":{"datum":1.125,"type":"quantitative"},"text":{"value":"E"}}}
 ]},
{"width":285,"height":212,"title":{"text":"Tyrosine Kinase Domains","offset":-28},
 "layer":[
  {"data":{"name":"F"},"mark":{"type":"area","interpolate":"monotone","opacity":0.25},
   "encoding":{"x":{"field":"x","type":"quantitative","scale":{"domain":[0,1],"nice":false,"zero":false},"axis":{"values":[0,0.2,0.4,0.6,0.8,1],"format":".1f","title":"Tversky Index","titleFontSize":16,"titlePadding":2}},
    "y":{"field":"lo","type":"quantitative","scale":{"domain":[-0.05,1.05],"nice":false,"zero":false},"axis":{"values":[0,0.2,0.4,0.6,0.8,1],"format":".1f","title":null}},
    "y2":{"field":"hi"},
    "fill":{"field":"d","type":"nominal","scale":{"domain":["scPDB","ppiome","scPDB background","ppiome background","none"],"range":["#1f77b4","#ff7f0e","#2ca02c","#d62728","#000000"]},"legend":null}}},
  {"data":{"name":"F"},"mark":{"type":"line","interpolate":"monotone","strokeWidth":1.5},
   "encoding":{"x":{"field":"x","type":"quantitative","scale":{"domain":[0,1],"nice":false,"zero":false},"axis":{"values":[0,0.2,0.4,0.6,0.8,1],"format":".1f","title":"Tversky Index","titleFontSize":16,"titlePadding":2}},
    "y":{"field":"y","type":"quantitative","scale":{"domain":[-0.05,1.05],"nice":false,"zero":false},"axis":{"values":[0,0.2,0.4,0.6,0.8,1],"format":".1f","title":null}},
    "color":{"field":"d","type":"nominal","scale":{"domain":["scPDB","ppiome","scPDB background","ppiome background"],"range":["#1f77b4","#ff7f0e","#2ca02c","#d62728"]},"title":"database"}}},
  {"data":{"values":[{}]},"mark":{"type":"rule","color":"#a33cc8","strokeDash":[3,2],"strokeWidth":1.4},
   "encoding":{"x":{"datum":0.44,"type":"quantitative"},"y":{"datum":0,"type":"quantitative"},"y2":{"datum":1}}},
  {"data":{"values":[{}]},"mark":{"type":"text","fontSize":20,"align":"left","baseline":"alphabetic","font":"Roboto","color":"#111"},
   "encoding":{"x":{"datum":-0.063,"type":"quantitative"},"y":{"datum":1.12,"type":"quantitative"},"text":{"value":"F"}}}
 ]}
]
}
